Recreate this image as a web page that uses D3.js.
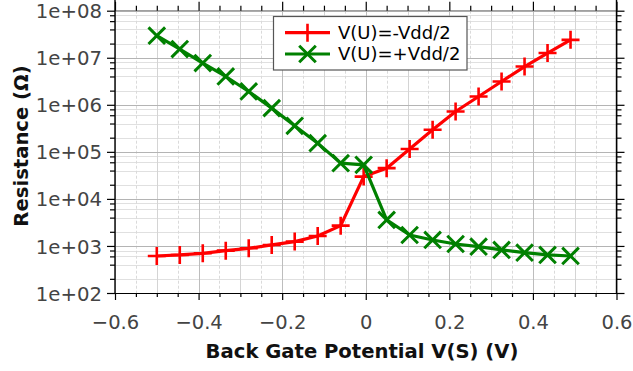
<!DOCTYPE html>
<html>
<head>
<meta charset="utf-8">
<script src="https://cdn.jsdelivr.net/npm/d3@7"></script>
<style>
  html, body { margin: 0; padding: 0; background: #fff; }
  svg { display: block; }
  text { font-family: "DejaVu Sans", sans-serif; }
</style>
</head>
<body>
<svg id="chart" width="633" height="371"></svg>
<script>
// Back gate potential V(S) in volts
const gateVoltage = [-0.5, -0.445, -0.39, -0.335, -0.28, -0.225, -0.17, -0.115, -0.06, -0.005,
                     0.05, 0.105, 0.16, 0.215, 0.27, 0.325, 0.38, 0.435, 0.49];
// Resistance (ohm) with V(U) = -Vdd/2
const resNegVdd = [612, 644, 698, 794, 892, 1050, 1236, 1633, 2700, 29800,
                   45000, 115000, 294000, 720000, 1.5e6, 3.13e6, 6.5e6, 1.26e7, 2.4e7];
// Resistance (ohm) with V(U) = +Vdd/2
const resPosVdd = [2.94e7, 1.53e7, 7.7e6, 4.0e6, 1.92e6, 8.5e5, 3.57e5, 1.53e5, 5.75e4, 5.3e4,
                   3570, 1710, 1340, 1100, 966, 822, 720, 645, 612];
const seriesNames = ["V(U)=-Vdd/2", "V(U)=+Vdd/2"];
const xTickLabels = [-0.6, -0.4, -0.2, 0, 0.2, 0.4, 0.6];
const yTickLabels = [1e2, 1e3, 1e4, 1e5, 1e6, 1e7, 1e8];

const svg = d3.select("#chart");
const plotL = 115, plotR = 616.5, plotT = 10.7, plotB = 293;

const x = d3.scaleLinear().domain([-0.6, 0.6]).range([plotL, plotR]);
const y = d3.scaleLog().domain([1e2, 1e8]).range([plotB, plotT]);

// tick positions
const xMinor = d3.range(-12, 13).map(i => +(i * 0.05).toFixed(2));
const yMinor = [];
yTickLabels.slice(0, -1).forEach(d => [2, 4, 6, 8].forEach(k => yMinor.push(d * k)));
const isMajorX = v => xTickLabels.some(t => Math.abs(t - v) < 1e-9);
const isTenthX = v => Math.abs(Math.round(v * 10) - v * 10) < 1e-9;

// grid
const grid = svg.append("g");
grid.selectAll(".gy").data(yMinor).join("line")
  .attr("x1", plotL).attr("x2", plotR)
  .attr("y1", d => Math.round(y(d)) + 0.5).attr("y2", d => Math.round(y(d)) + 0.5)
  .attr("stroke", "#e0e0e0").attr("stroke-width", 1);
grid.selectAll(".gx").data(xMinor.filter(v => !isMajorX(v))).join("line")
  .attr("x1", d => Math.round(x(d)) + 0.5).attr("x2", d => Math.round(x(d)) + 0.5)
  .attr("y1", plotT).attr("y2", plotB)
  .attr("stroke", d => isTenthX(d) ? "#d4d4d4" : "#dadada")
  .attr("stroke-dasharray", d => isTenthX(d) ? null : "3,2")
  .attr("stroke-width", 1);
grid.selectAll(".gY").data(yTickLabels).join("line")
  .attr("x1", plotL).attr("x2", plotR)
  .attr("y1", d => Math.round(y(d)) + 0.5).attr("y2", d => Math.round(y(d)) + 0.5)
  .attr("stroke", "#b4b4b4").attr("stroke-width", 1);
grid.selectAll(".gX").data(xTickLabels).join("line")
  .attr("x1", d => Math.round(x(d)) + 0.5).attr("x2", d => Math.round(x(d)) + 0.5)
  .attr("y1", plotT).attr("y2", plotB)
  .attr("stroke", "#bdbdbd").attr("stroke-width", 1);

// frame: gray top edge, black left/right/bottom axes
svg.append("line").attr("x1", plotL).attr("x2", plotR).attr("y1", plotT).attr("y2", plotT)
  .attr("stroke", "#8c8c8c").attr("stroke-width", 1);

const fmtX = d => d === 0 ? "0" : d3.format(".1f")(d).replace("-", "\u2212");
const fmtY = d => "1e+" + String(Math.round(Math.log10(d))).padStart(2, "0");

// bottom axis
const axB = svg.append("g").attr("transform", `translate(0,${plotB})`)
  .call(d3.axisBottom(x).tickValues(xMinor).tickSizeOuter(0)
    .tickSize(0).tickFormat(""));
axB.select(".domain").attr("stroke", "#000").attr("stroke-width", 1.2);
axB.selectAll(".tick line").attr("y2", d => isMajorX(d) ? 7 : 4).attr("stroke", "#000").attr("stroke-width", 1.2);
axB.selectAll(".tick").filter(d => isMajorX(d)).append("text")
  .attr("y", 36).attr("fill", "#444").attr("text-anchor", "middle")
  .style("font-size", "19.5px").text(fmtX);

// top ticks
const axT = svg.append("g").attr("transform", `translate(0,${plotT})`)
  .call(d3.axisTop(x).tickValues(xMinor).tickSize(0).tickSizeOuter(0).tickFormat(""));
axT.select(".domain").remove();
axT.selectAll(".tick line").attr("y2", d => isMajorX(d) ? -9 : -5).attr("stroke", "#000").attr("stroke-width", 1.2);

// left axis
const yAll = yTickLabels.concat(yMinor);
const isMajorY = v => yTickLabels.includes(v);
const axL = svg.append("g").attr("transform", `translate(${plotL},0)`)
  .call(d3.axisLeft(y).tickValues(yAll).tickSize(0).tickSizeOuter(0).tickFormat(""));
axL.select(".domain").attr("d", `M0,0V${plotB}`).attr("stroke", "#000").attr("stroke-width", 1.4);
axL.selectAll(".tick line").attr("x2", d => isMajorY(d) ? -8 : -5).attr("stroke", "#000").attr("stroke-width", 1.2);
axL.selectAll(".tick").filter(d => isMajorY(d)).append("text")
  .attr("x", -13).attr("dy", "0.36em").attr("fill", "#444").attr("text-anchor", "end")
  .style("font-size", "19.7px").text(fmtY);

// right axis
const axR = svg.append("g").attr("transform", `translate(${plotR},0)`)
  .call(d3.axisRight(y).tickValues(yAll).tickSize(0).tickSizeOuter(0).tickFormat(""));
axR.select(".domain").attr("d", `M0,0V${plotB}`).attr("stroke", "#000").attr("stroke-width", 1.4);
axR.selectAll(".tick line").attr("x2", d => isMajorY(d) ? 8 : 5).attr("stroke", "#000").attr("stroke-width", 1.2);

// axis titles
svg.append("text").attr("x", 362).attr("y", 357.5).attr("text-anchor", "middle")
  .style("font-size", "19.6px").style("font-weight", "bold").attr("fill", "#111")
  .text("Back Gate Potential V(S) (V)");
svg.append("text").attr("transform", "translate(27.5,146) rotate(-90)").attr("text-anchor", "middle")
  .style("font-size", "19.6px").style("font-weight", "bold").attr("fill", "#111")
  .text("Resistance (\u03A9)");

// series
const colors = ["#ff0000", "#008000"];
const plusPath = s => `M${-s},0H${s}M0,${-s}V${s}`;
const crossPath = s => `M${-s},${-s}L${s},${s}M${-s},${s}L${s},${-s}`;
const markers = [plusPath(9), crossPath(8.3)];
const markerWidth = [2.6, 3];
const line = d3.line().x(d => x(d[0])).y(d => y(d[1]));

[resNegVdd, resPosVdd].forEach((vals, i) => {
  const pts = gateVoltage.map((v, j) => [v, vals[j]]);
  const g = svg.append("g");
  g.append("path").datum(pts).attr("d", line)
    .attr("fill", "none").attr("stroke", colors[i]).attr("stroke-width", 3.2)
    .attr("stroke-linejoin", "round");
  g.selectAll("path.m").data(pts).join("path").attr("class", "m")
    .attr("transform", d => `translate(${x(d[0])},${y(d[1])})`)
    .attr("d", markers[i]).attr("fill", "none")
    .attr("stroke", colors[i]).attr("stroke-width", markerWidth[i]);
});

// legend
const lg = svg.append("g");
lg.append("rect").attr("x", 273.5).attr("y", 16.5).attr("width", 193.5).attr("height", 53.5)
  .attr("fill", "#fff").attr("stroke", "#555").attr("stroke-width", 1.2);
seriesNames.forEach((name, i) => {
  const cy = [32.7, 54][i];
  lg.append("line").attr("x1", 285).attr("x2", 330).attr("y1", cy).attr("y2", cy)
    .attr("stroke", colors[i]).attr("stroke-width", 3.2);
  lg.append("path").attr("transform", `translate(307.5,${cy})`).attr("d", markers[i])
    .attr("fill", "none").attr("stroke", colors[i]).attr("stroke-width", markerWidth[i]);
  lg.append("text").attr("x", 338).attr("y", cy).attr("dy", "0.36em")
    .style("font-size", "18px").attr("fill", "#000").text(name);
});
</script>
</body>
</html>
